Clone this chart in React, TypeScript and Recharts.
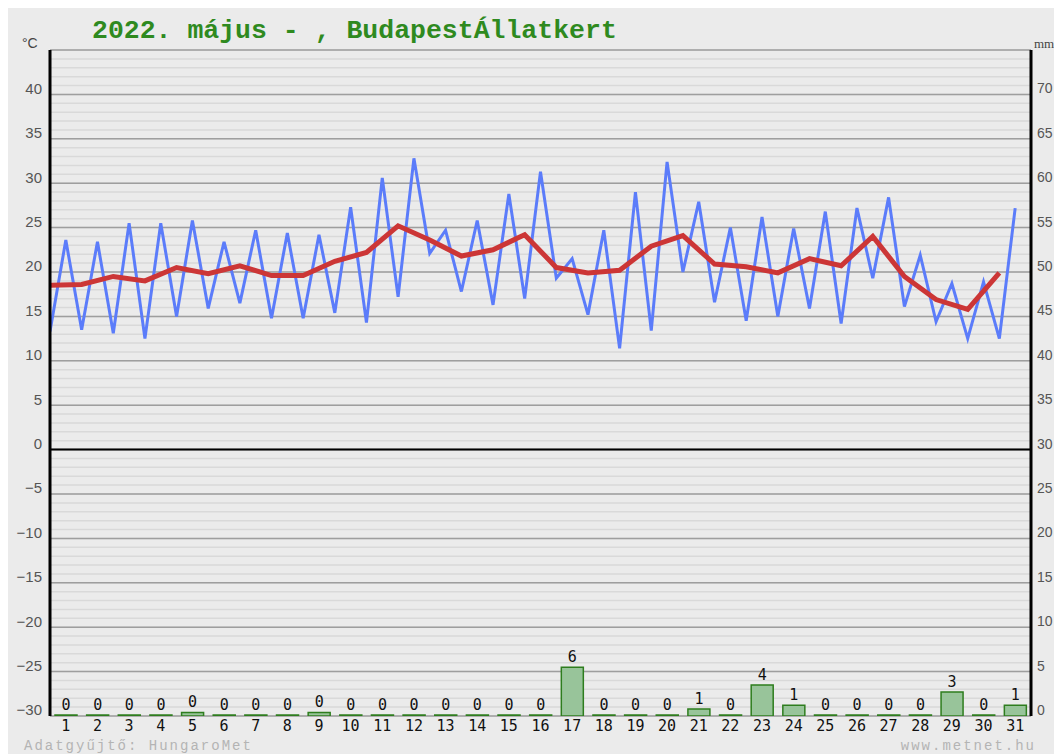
import React from 'react';
import { ComposedChart, Bar, Line, XAxis, YAxis, CartesianGrid, ReferenceLine, LabelList } from 'recharts';

const days = [1, 2, 3, 4, 5, 6, 7, 8, 9, 10, 11, 12, 13, 14, 15, 16, 17, 18, 19, 20, 21, 22, 23, 24, 25, 26, 27, 28, 29, 30, 31];
const tMin = [13.3, 13.5, 13.1, 12.5, 15.0, 15.9, 16.5, 14.8, 14.8, 15.4, 14.3, 17.2, 22.1, 17.8, 16.3, 17.0, 19.3, 15.2, 11.4, 13.4, 20.0, 16.6, 14.5, 15.0, 15.9, 14.2, 19.3, 16.1, 14.4, 12.5, 12.5];
const tMax = [23.6, 23.4, 25.5, 25.5, 25.8, 23.4, 24.7, 24.4, 24.2, 27.3, 30.6, 32.8, 24.7, 25.8, 28.8, 31.3, 21.5, 24.7, 29.0, 32.4, 27.9, 25.0, 26.2, 24.9, 26.8, 27.2, 28.4, 21.9, 18.7, 18.9, 27.2];
const tMean = [18.5, 18.6, 19.5, 19.0, 20.5, 19.8, 20.7, 19.6, 19.6, 21.2, 22.2, 25.2, 23.6, 21.8, 22.5, 24.2, 20.5, 19.9, 20.2, 22.9, 24.1, 20.9, 20.6, 19.9, 21.5, 20.7, 24.0, 19.5, 16.9, 15.8, 19.9];
const rain = [0, 0, 0, 0, 0.4, 0, 0, 0, 0.4, 0, 0, 0, 0, 0, 0, 0, 5.5, 0, 0, 0, 0.8, 0, 3.5, 1.2, 0, 0, 0, 0, 2.7, 0, 1.2];
const tempTicks = [-30, -25, -20, -15, -10, -5, 0, 5, 10, 15, 20, 25, 30, 35, 40];
const rainTicks = [0, 5, 10, 15, 20, 25, 30, 35, 40, 45, 50, 55, 60, 65, 70];

const titleText = '2022. május - , BudapestÁllatkert';
const leftFooter = 'Adatgyűjtő: HungaroMet';
const rightFooter = 'www.metnet.hu';

const barData = days.map((d, i) => ({ day: String(d), rain: rain[i] }));
const rangeData = days.flatMap((d, i) => [
  { x: i, t: tMin[i] },
  { x: i + 0.5, t: tMax[i] },
]);
const meanData = days.map((d, i) => ({ x: i, t: tMean[i] }));

const minorLines: number[] = [];
for (let v = -30; v <= 45; v++) minorLines.push(v);
const majorLines = minorLines.filter((v) => v % 5 === 0);

const fmtMinus = (v: any) => String(v).replace('-', '\u2212');

export default function App() {
  return (
    <div style={{ position: 'fixed', left: 8, top: 8, width: 1046, height: 746, background: '#ebebeb', overflow: 'hidden' }}>
      <ComposedChart width={1046} height={746} data={barData} margin={{ top: 42, right: 0, bottom: 8, left: 0 }}>
        <CartesianGrid xAxisId="b" yAxisId="t" vertical={false} horizontalValues={minorLines} stroke="#d9d9d9" strokeWidth={1.5} />
        <CartesianGrid xAxisId="b" yAxisId="t" vertical={false} horizontalValues={majorLines} stroke="#9e9e9e" strokeWidth={1.5} />
        <XAxis
          xAxisId="b"
          dataKey="day"
          type="category"
          interval={0}
          axisLine={false}
          tickLine={false}
          tickSize={4}
          tickMargin={0}
          height={30}
          tick={{ fill: '#111', fontSize: 15, fontFamily: 'DejaVu Sans Mono' }}
        />
        <XAxis xAxisId="n" type="number" dataKey="x" domain={[0, 31]} hide allowDataOverflow />
        <YAxis
          yAxisId="t"
          type="number"
          domain={[-30, 45]}
          ticks={tempTicks}
          interval={0}
          allowDataOverflow
          width={42}
          axisLine={{ stroke: '#000', strokeWidth: 3 }}
          tickLine={false}
          tickFormatter={fmtMinus}
          tick={{ fill: '#555', fontSize: 15, fontFamily: 'Liberation Sans', dy: -6 }}
        />
        <YAxis
          yAxisId="r"
          orientation="right"
          type="number"
          domain={[0, 75]}
          ticks={rainTicks}
          interval={0}
          allowDataOverflow
          width={23}
          axisLine={{ stroke: '#000', strokeWidth: 3 }}
          tickLine={false}
          tickSize={5}
          tickMargin={1}
          tick={{ fill: '#555', fontSize: 14, fontFamily: 'Liberation Sans', dy: -6 }}
        />
        <ReferenceLine xAxisId="b" yAxisId="t" y={0} stroke="#000" strokeWidth={2} />
        <Bar
          xAxisId="b"
          yAxisId="r"
          dataKey="rain"
          barSize={22}
          fill="#98c49a"
          stroke="#2e7d1e"
          strokeWidth={1.5}
          minPointSize={1}
          isAnimationActive={false}
        >
          <LabelList
            dataKey="rain"
            position="top"
            offset={5}
            formatter={(v: any) => Math.round(Number(v))}
            style={{ fill: '#111', fontSize: 15, fontFamily: 'DejaVu Sans Mono' }}
          />
        </Bar>
        <Line xAxisId="n" yAxisId="t" data={rangeData} dataKey="t" type="linear" stroke="#5b7cfa" strokeWidth={3} dot={false} activeDot={false} isAnimationActive={false} />
        <Line xAxisId="n" yAxisId="t" data={meanData} dataKey="t" type="linear" stroke="#cc3636" strokeWidth={5} dot={false} activeDot={false} isAnimationActive={false} />
      </ComposedChart>
      <svg width={1046} height={746} style={{ position: 'absolute', left: 0, top: 0, pointerEvents: 'none' }}>
        <text x={84} y={30} fontFamily="Liberation Mono" fontWeight="bold" fontSize={26.5} fill="#2f8a1f">{titleText}</text>
        <text x={14} y={40} fontFamily="Liberation Sans" fontSize={14} fill="#444">°C</text>
        <text x={1026} y={40} fontFamily="Liberation Serif" fontSize={13} fill="#444">mm</text>
        <text x={16} y={742} fontFamily="Liberation Mono" fontSize={14} letterSpacing={2} fill="#b4b4b4">{leftFooter}</text>
        <text x={1028} y={742} textAnchor="end" fontFamily="Liberation Mono" fontSize={14} letterSpacing={2} fill="#b4b4b4">{rightFooter}</text>
      </svg>
    </div>
  );
}
